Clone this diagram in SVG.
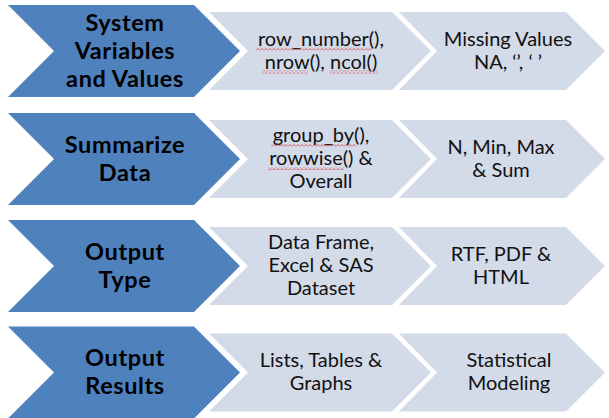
<svg xmlns="http://www.w3.org/2000/svg" width="609" height="418" viewBox="0 0 609 418">
  <defs>
    <style>
      .head { fill: #4F81BD; }
      .step { fill: #D3DAE8; }
      .ht { font-family: Lato, "Open Sans", "Liberation Sans", sans-serif; font-weight: bold; font-size: 23.5px; letter-spacing: 0.6px; fill: #000; text-anchor: middle; }
      .st { font-family: Lato, "Open Sans", "Liberation Sans", sans-serif; font-size: 20px; fill: #111; text-anchor: middle; }
      .spell { fill: url(#squiggle); }
    </style>
    <!-- wavy red spell-check underline -->
    <pattern id="squiggle" width="4" height="3" patternUnits="userSpaceOnUse">
      <polyline points="0,2.5 2,0.5 4,2.5" fill="none" stroke="#E03C3C" stroke-width="0.8"/>
    </pattern>
    <!-- chevron outlines, one per column, drawn around y=0 -->
    <polygon id="chevHead" points="8,-46 194,-46 240,0 194,46 8,46 54,0"/>
    <polygon id="chevMid" points="209,-39 392,-39 431,0 392,39 209,39 248,0"/>
    <polygon id="chevEnd" points="399,-39 566,-39 605,0 566,39 399,39 437,0"/>
  </defs>

  <!-- Row 1 -->
  <g id="row1-head" transform="translate(0,51)">
    <use href="#chevHead" class="head"/>
    <text class="ht" x="125" y="-20">System</text>
    <text class="ht" x="125" y="8.2">Variables</text>
    <text class="ht" x="125" y="36.4">and Values</text>
  </g>
  <g id="row1-mid" transform="translate(0,51)">
    <use href="#chevMid" class="step"/>
    <text class="st" x="321" y="-5.5">row_number(),</text>
    <text class="st" x="321" y="17.5">nrow(), ncol()</text>
    <rect class="spell" x="256" y="-3.5" width="116" height="3"/>
    <rect class="spell" x="262" y="19.5" width="46" height="3"/>
    <rect class="spell" x="330" y="19.5" width="48" height="3"/>
  </g>
  <g id="row1-end" transform="translate(0,51)">
    <use href="#chevEnd" class="step"/>
    <text class="st" x="508" y="-5.5">Missing Values</text>
    <text class="st" x="508" y="17.5">NA, ‘’, ‘ ’</text>
  </g>

  <!-- Row 2 -->
  <g id="row2-head" transform="translate(0,159)">
    <use href="#chevHead" class="head"/>
    <text class="ht" x="125" y="-6.5">Summarize</text>
    <text class="ht" x="125" y="21.7">Data</text>
  </g>
  <g id="row2-mid" transform="translate(0,159)">
    <use href="#chevMid" class="step"/>
    <text class="st" x="321" y="-17">group_by(),</text>
    <text class="st" x="321" y="6">rowwise() &amp;</text>
    <text class="st" x="321" y="29">Overall</text>
    <rect class="spell" x="271" y="-15" width="85" height="3"/>
    <rect class="spell" x="268" y="8" width="76" height="3"/>
  </g>
  <g id="row2-end" transform="translate(0,159)">
    <use href="#chevEnd" class="step"/>
    <text class="st" x="501" y="-5.5">N, Min, Max</text>
    <text class="st" x="501" y="17.5">&amp; Sum</text>
  </g>

  <!-- Row 3 -->
  <g id="row3-head" transform="translate(0,266)">
    <use href="#chevHead" class="head"/>
    <text class="ht" x="125" y="-6.5">Output</text>
    <text class="ht" x="125" y="21.7">Type</text>
  </g>
  <g id="row3-mid" transform="translate(0,266)">
    <use href="#chevMid" class="step"/>
    <text class="st" x="321" y="-17">Data Frame,</text>
    <text class="st" x="321" y="6">Excel &amp; SAS</text>
    <text class="st" x="321" y="29">Dataset</text>
  </g>
  <g id="row3-end" transform="translate(0,266)">
    <use href="#chevEnd" class="step"/>
    <text class="st" x="501" y="-5.5">RTF, PDF &amp;</text>
    <text class="st" x="501" y="17.5">HTML</text>
  </g>

  <!-- Row 4 -->
  <g id="row4-head" transform="translate(0,372.5)">
    <use href="#chevHead" class="head"/>
    <text class="ht" x="125" y="-6.5">Output</text>
    <text class="ht" x="125" y="21.7">Results</text>
  </g>
  <g id="row4-mid" transform="translate(0,372.5)">
    <use href="#chevMid" class="step"/>
    <text class="st" x="321" y="-5.5">Lists, Tables &amp;</text>
    <text class="st" x="321" y="17.5">Graphs</text>
  </g>
  <g id="row4-end" transform="translate(0,372.5)">
    <use href="#chevEnd" class="step"/>
    <text class="st" x="509" y="-5.5">Statistical</text>
    <text class="st" x="509" y="17.5">Modeling</text>
  </g>

  <!-- the chevrons are joined only by layout; no separate connectors -->
  <g id="connectors"/>
</svg>
